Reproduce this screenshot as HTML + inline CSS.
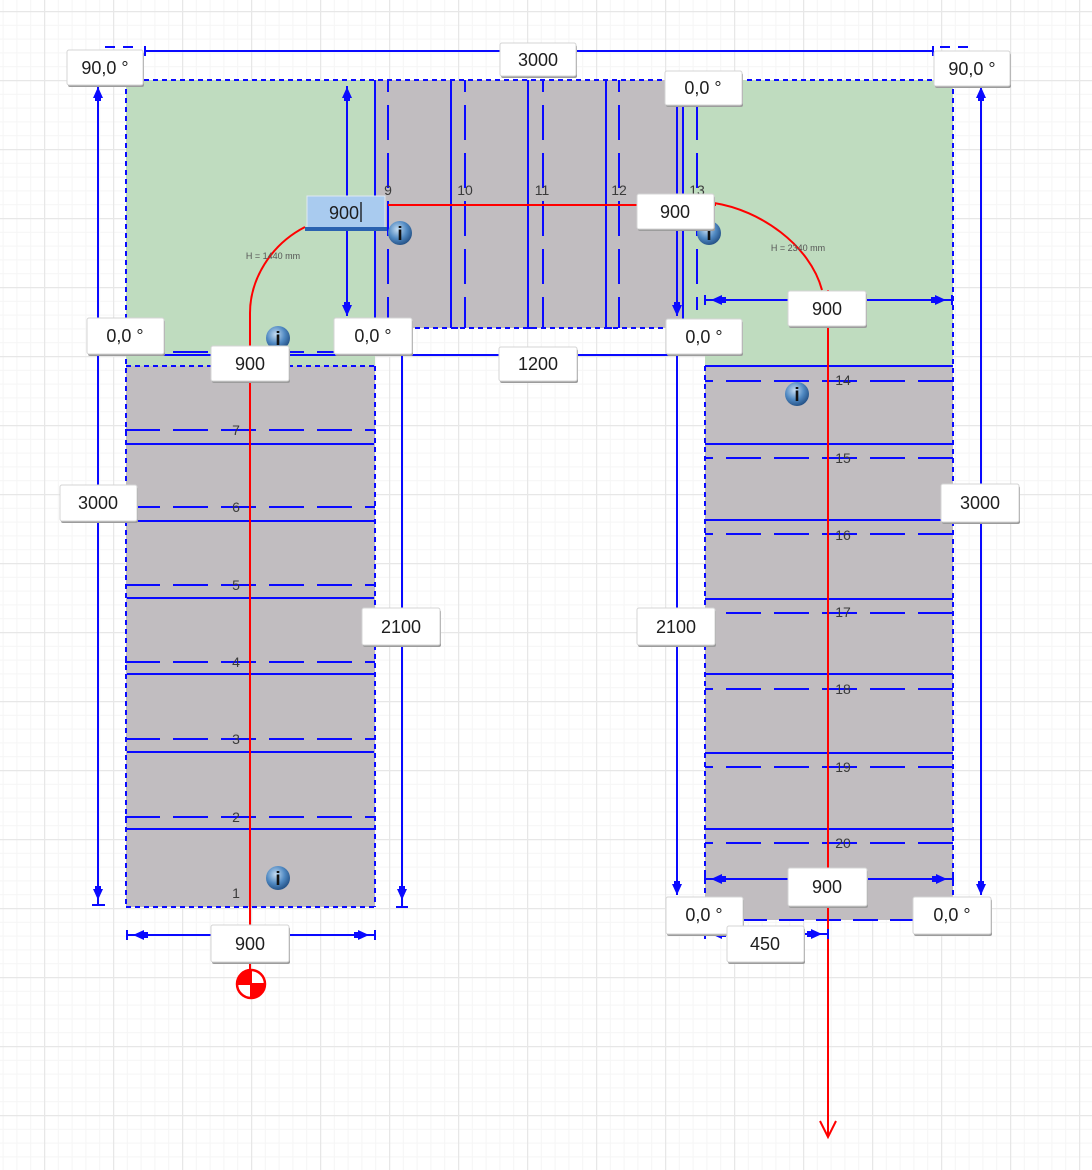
<!DOCTYPE html>
<html><head><meta charset="utf-8"><style>
html,body{margin:0;padding:0;background:#fff;}
svg{display:block;}
text{font-family:"Liberation Sans",sans-serif;}
</style></head><body>
<svg width="1092" height="1170" viewBox="0 0 1092 1170" xmlns="http://www.w3.org/2000/svg">
<defs>
<pattern id="minor" x="44" y="11" width="13.8" height="13.8" patternUnits="userSpaceOnUse">
 <path d="M0.5 0V13.8M0 0.5H13.8" stroke="#f5f5f5" stroke-width="1" fill="none"/>
</pattern>
<pattern id="major" x="44" y="11" width="69" height="69" patternUnits="userSpaceOnUse">
 <path d="M0.5 0V69M0 0.5H69" stroke="#e7e7e7" stroke-width="1.5" fill="none"/>
</pattern>
<radialGradient id="ig" cx="0.4" cy="0.35" r="0.7">
 <stop offset="0" stop-color="#c4dcf2"/><stop offset="0.55" stop-color="#5089c2"/><stop offset="1" stop-color="#1f4b80"/>
</radialGradient>
</defs>
<rect width="1092" height="1170" fill="#fff"/>
<rect width="1092" height="1170" fill="url(#minor)"/>
<rect width="1092" height="1170" fill="url(#major)"/>

<!-- fills -->
<rect x="126" y="80" width="249" height="286" fill="#bfdcbf"/>
<polygon points="683,80 953,80 953,366 705,366 705,330 683,330" fill="#bfdcbf"/>
<rect x="375" y="80" width="308" height="248" fill="#c1bdc0"/>
<rect x="126" y="366" width="249" height="541" fill="#c1bdc0"/>
<rect x="705" y="366" width="248" height="554" fill="#c1bdc0"/>

<g stroke="#0a0aff" stroke-width="2" fill="none">
 <!-- short-dash outlines -->
 <g stroke-dasharray="5 4">
  <path d="M126 80H953"/>
  <path d="M126 80V907"/>
  <path d="M126 907H375"/>
  <path d="M375 366V907"/>
  <path d="M126 366H375"/>
  <path d="M388 328H677"/>
  <path d="M953 80V920"/>
  <path d="M705 366V920"/>
 </g>
 <path d="M705 920H953" stroke-dasharray="25 12"/>
 <!-- long dashed tread lines -->
 <g stroke-dasharray="35 13">
  <path d="M125 352H375"/>
  <path d="M125 430H375"/>
  <path d="M125 507H375"/>
  <path d="M125 585H375"/>
  <path d="M125 662H375"/>
  <path d="M125 739H375"/>
  <path d="M125 817H375"/>
 </g>
 <g stroke-dasharray="35 13" stroke-dashoffset="27">
  <path d="M705 381H953"/>
  <path d="M705 458H953"/>
  <path d="M705 534H953"/>
  <path d="M705 613H953"/>
  <path d="M705 689H953"/>
  <path d="M705 767H953"/>
  <path d="M705 843H953"/>
 </g>
 <g stroke-dasharray="35 13" stroke-dashoffset="23">
  <path d="M388 80V328"/>
  <path d="M465 80V328"/>
  <path d="M543 80V328"/>
  <path d="M619 80V328"/>
  <path d="M697 80V310"/>
 </g>
 <!-- solid tread lines -->
 <path d="M127 444H374M127 521H374M127 598H374M127 674H374M127 752H374M127 829H374"/>
 <path d="M705 366H953M705 444H953M705 520H953M705 599H953M705 674H953M705 753H953M705 829H953"/>
 <path d="M375 80V355M451 80V328M528 80V328M606 80V328M683 80V328"/>
 <path d="M451 328H458M528 328H536M606 328H612"/>
</g>

<!-- red walk line -->
<g stroke="#ff0000" stroke-width="2" fill="none">
 <path d="M250 970V313C250 280 270 245 305 227"/>
 <path d="M388 205H716"/>
 <path d="M714 203C760 210 810 245 822 290"/>
 <path d="M828 290V1137"/>
 <path d="M820 1121L828 1137L836 1121"/>
</g>
<g>
 <circle cx="251" cy="984" r="14" fill="#fff" stroke="#ff0000" stroke-width="2.5"/>
 <path d="M251 984V970A14 14 0 0 0 237 984Z" fill="#ff0000"/>
 <path d="M251 984V998A14 14 0 0 0 265 984Z" fill="#ff0000"/>
 <path d="M237 984H265M251 970V998" stroke="#ff0000" stroke-width="2"/>
</g>

<!-- dimension lines -->
<g stroke="#0a0aff" stroke-width="2" fill="none">
 <path d="M145 51H933"/>
 <path d="M145 46V56M933 46V56"/>
 <path d="M105 47H115M123 47H133M940 47H950M958 47H968"/>
 <path d="M98 86V905M92 905H105"/>
 <path d="M981 86V895"/>
 <path d="M347 86V316"/>
 <path d="M677 104V316"/>
 <path d="M402 356V907M396 907H408"/>
 <path d="M677 356V895"/>
 <path d="M100 355H705"/>
 <path d="M705 300H952M705 295V305M952 295V305"/>
 <path d="M127 935H375M127 930V940M375 930V940"/>
 <path d="M705 879H953M705 874V884M953 874V884"/>
 <path d="M705 934H828M705 929V939M828 929V939"/>
</g>
<g fill="#0a0aff">
 <!-- vertical arrows -->
 <polygon points="98,87 93,98 103,98"/><rect x="95" y="97" width="6" height="4"/>
 <polygon points="98,900 93,889 103,889"/><rect x="95" y="886" width="6" height="4"/>
 <polygon points="981,87 976,98 986,98"/><rect x="978" y="97" width="6" height="4"/>
 <polygon points="981,895 976,884 986,884"/><rect x="978" y="881" width="6" height="4"/>
 <polygon points="347,87 342,98 352,98"/><rect x="344" y="97" width="6" height="4"/>
 <polygon points="347,316 342,305 352,305"/><rect x="344" y="302" width="6" height="4"/>
 <polygon points="677,316 672,305 682,305"/><rect x="674" y="302" width="6" height="4"/>
 <polygon points="402,900 397,889 407,889"/><rect x="399" y="886" width="6" height="4"/>
 <polygon points="677,895 672,884 682,884"/><rect x="674" y="881" width="6" height="4"/>
 <!-- horizontal arrows -->
 <polygon points="133,935 144,930 144,940"/><rect x="143" y="932" width="5" height="6"/>
 <polygon points="369,935 358,930 358,940"/><rect x="354" y="932" width="5" height="6"/>
 <polygon points="711,879 722,874 722,884"/><rect x="721" y="876" width="5" height="6"/>
 <polygon points="947,879 936,874 936,884"/><rect x="932" y="876" width="5" height="6"/>
 <polygon points="711,300 722,295 722,305"/><rect x="721" y="297" width="5" height="6"/>
 <polygon points="946,300 935,295 935,305"/><rect x="931" y="297" width="5" height="6"/>
 <polygon points="711,934 722,929 722,939"/><rect x="721" y="931" width="5" height="6"/>
 <polygon points="822,934 811,929 811,939"/><rect x="807" y="931" width="5" height="6"/>
</g>

<!-- step numbers -->
<g font-size="14" fill="#3a3a3a" text-anchor="middle">
 <text x="236" y="435">7</text><text x="236" y="512">6</text><text x="236" y="590">5</text>
 <text x="236" y="667">4</text><text x="236" y="744">3</text><text x="236" y="822">2</text>
 <text x="236" y="898">1</text>
 <text x="388" y="195">9</text><text x="465" y="195">10</text><text x="542" y="195">11</text>
 <text x="619" y="195">12</text><text x="697" y="195">13</text>
 <text x="843" y="385">14</text><text x="843" y="463">15</text><text x="843" y="540">16</text>
 <text x="843" y="617">17</text><text x="843" y="694">18</text><text x="843" y="772">19</text>
 <text x="843" y="848">20</text>
</g>
<g font-size="9" fill="#555" text-anchor="middle">
 <text x="273" y="259">H = 1440 mm</text>
 <text x="798" y="251">H = 2340 mm</text>
</g>

<!-- info icons -->
<g font-family="Liberation Serif, serif" font-weight="bold" font-size="19" text-anchor="middle" fill="#111">
 <circle cx="278" cy="338" r="12" fill="url(#ig)"/><text x="278" y="345">i</text>
 <circle cx="400" cy="233" r="12" fill="url(#ig)"/><text x="400" y="240">i</text>
 <circle cx="709" cy="233" r="12" fill="url(#ig)"/><text x="709" y="240">i</text>
 <circle cx="797" cy="394" r="12" fill="url(#ig)"/><text x="797" y="401">i</text>
 <circle cx="278" cy="878" r="12" fill="url(#ig)"/><text x="278" y="885">i</text>
</g>

<!-- labels -->
<g font-size="18" fill="#1e1e1e" text-anchor="middle">
 <g>
  <rect x="68" y="52" width="76" height="35" rx="2" fill="#9c9c9c"/>
  <rect x="67" y="50" width="76" height="35" rx="2" fill="#fff" stroke="#d4d4d4"/>
  <text x="105" y="74">90,0 °</text>
 </g>
 <g>
  <rect x="501" y="45" width="76" height="33" rx="2" fill="#9c9c9c"/>
  <rect x="500" y="43" width="76" height="33" rx="2" fill="#fff" stroke="#d4d4d4"/>
  <text x="538" y="66">3000</text>
 </g>
 <g>
  <rect x="666" y="73" width="77" height="34" rx="2" fill="#9c9c9c"/>
  <rect x="665" y="71" width="77" height="34" rx="2" fill="#fff" stroke="#d4d4d4"/>
  <text x="703" y="94">0,0 °</text>
 </g>
 <g>
  <rect x="935" y="53" width="76" height="35" rx="2" fill="#9c9c9c"/>
  <rect x="934" y="51" width="76" height="35" rx="2" fill="#fff" stroke="#d4d4d4"/>
  <text x="972" y="75">90,0 °</text>
 </g>
 <g>
  <rect x="307" y="196" width="78" height="34" fill="#a9cbef" stroke="#dfe8f2"/>
  <rect x="305" y="227" width="82" height="4" fill="#2a62b0"/>
  <text x="344" y="219">900</text>
  <path d="M361 202V222" stroke="#111" stroke-width="1.3"/>
 </g>
 <g>
  <rect x="638" y="196" width="77" height="35" rx="2" fill="#9c9c9c"/>
  <rect x="637" y="194" width="77" height="35" rx="2" fill="#fff" stroke="#d4d4d4"/>
  <text x="675" y="218">900</text>
 </g>
 <g>
  <rect x="88" y="320" width="77" height="36" rx="2" fill="#9c9c9c"/>
  <rect x="87" y="318" width="77" height="36" rx="2" fill="#fff" stroke="#d4d4d4"/>
  <text x="125" y="342">0,0 °</text>
 </g>
 <g>
  <rect x="335" y="320" width="78" height="36" rx="2" fill="#9c9c9c"/>
  <rect x="334" y="318" width="78" height="36" rx="2" fill="#fff" stroke="#d4d4d4"/>
  <text x="373" y="342">0,0 °</text>
 </g>
 <g>
  <rect x="212" y="348" width="78" height="35" rx="2" fill="#9c9c9c"/>
  <rect x="211" y="346" width="78" height="35" rx="2" fill="#fff" stroke="#d4d4d4"/>
  <text x="250" y="370">900</text>
 </g>
 <g>
  <rect x="667" y="321" width="76" height="35" rx="2" fill="#9c9c9c"/>
  <rect x="666" y="319" width="76" height="35" rx="2" fill="#fff" stroke="#d4d4d4"/>
  <text x="704" y="343">0,0 °</text>
 </g>
 <g>
  <rect x="789" y="293" width="78" height="35" rx="2" fill="#9c9c9c"/>
  <rect x="788" y="291" width="78" height="35" rx="2" fill="#fff" stroke="#d4d4d4"/>
  <text x="827" y="315">900</text>
 </g>
 <g>
  <rect x="500" y="349" width="78" height="34" rx="2" fill="#9c9c9c"/>
  <rect x="499" y="347" width="78" height="34" rx="2" fill="#fff" stroke="#d4d4d4"/>
  <text x="538" y="370">1200</text>
 </g>
 <g>
  <rect x="61" y="487" width="77" height="36" rx="2" fill="#9c9c9c"/>
  <rect x="60" y="485" width="77" height="36" rx="2" fill="#fff" stroke="#d4d4d4"/>
  <text x="98" y="509">3000</text>
 </g>
 <g>
  <rect x="363" y="610" width="78" height="37" rx="2" fill="#9c9c9c"/>
  <rect x="362" y="608" width="78" height="37" rx="2" fill="#fff" stroke="#d4d4d4"/>
  <text x="401" y="633">2100</text>
 </g>
 <g>
  <rect x="942" y="486" width="78" height="38" rx="2" fill="#9c9c9c"/>
  <rect x="941" y="484" width="78" height="38" rx="2" fill="#fff" stroke="#d4d4d4"/>
  <text x="980" y="509">3000</text>
 </g>
 <g>
  <rect x="638" y="610" width="78" height="37" rx="2" fill="#9c9c9c"/>
  <rect x="637" y="608" width="78" height="37" rx="2" fill="#fff" stroke="#d4d4d4"/>
  <text x="676" y="633">2100</text>
 </g>
 <g>
  <rect x="212" y="927" width="78" height="37" rx="2" fill="#9c9c9c"/>
  <rect x="211" y="925" width="78" height="37" rx="2" fill="#fff" stroke="#d4d4d4"/>
  <text x="250" y="950">900</text>
 </g>
 <g>
  <rect x="789" y="870" width="79" height="38" rx="2" fill="#9c9c9c"/>
  <rect x="788" y="868" width="79" height="38" rx="2" fill="#fff" stroke="#d4d4d4"/>
  <text x="827" y="893">900</text>
 </g>
 <g>
  <rect x="667" y="899" width="77" height="37" rx="2" fill="#9c9c9c"/>
  <rect x="666" y="897" width="77" height="37" rx="2" fill="#fff" stroke="#d4d4d4"/>
  <text x="704" y="921">0,0 °</text>
 </g>
 <g>
  <rect x="914" y="899" width="78" height="37" rx="2" fill="#9c9c9c"/>
  <rect x="913" y="897" width="78" height="37" rx="2" fill="#fff" stroke="#d4d4d4"/>
  <text x="952" y="921">0,0 °</text>
 </g>
 <g>
  <rect x="728" y="928" width="77" height="36" rx="2" fill="#9c9c9c"/>
  <rect x="727" y="926" width="77" height="36" rx="2" fill="#fff" stroke="#d4d4d4"/>
  <text x="765" y="950">450</text>
 </g>
</g>
</svg>
</body></html>
